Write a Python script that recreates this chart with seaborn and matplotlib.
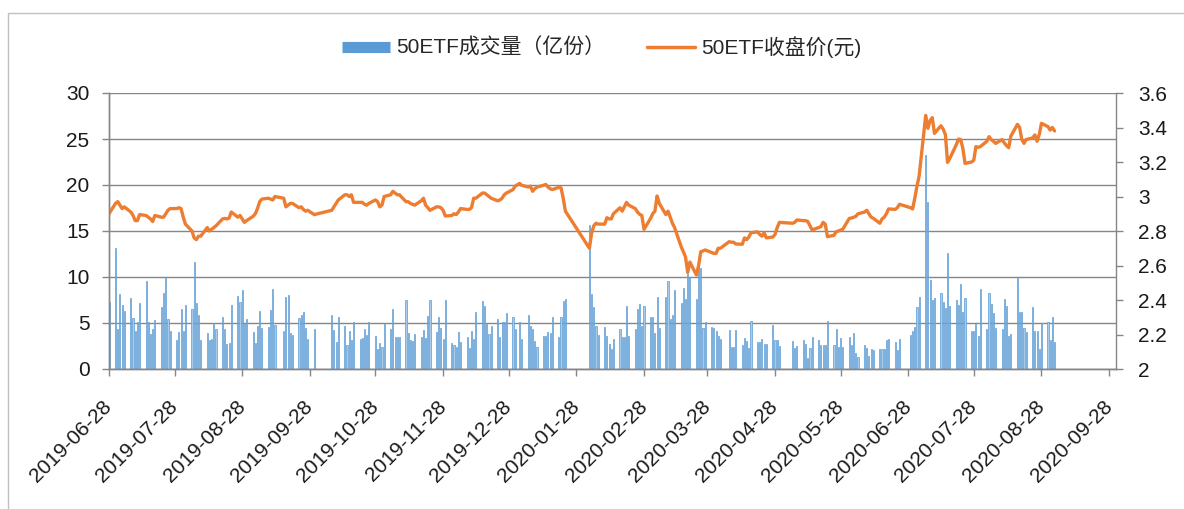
import numpy as np
import pandas as pd
import seaborn as sns
import matplotlib
matplotlib.use("Agg")
from matplotlib import pyplot as plt
from matplotlib.lines import Line2D
from matplotlib.patches import Rectangle
from matplotlib.ticker import FuncFormatter

# trading calendar (SSE closed on these weekdays)
holidays = ["2019-09-13", "2019-10-01", "2019-10-02", "2019-10-03", "2019-10-04",
            "2019-10-07", "2020-01-01", "2020-01-24", "2020-01-27", "2020-01-28",
            "2020-01-29", "2020-01-30", "2020-01-31", "2020-04-06", "2020-05-01",
            "2020-05-04", "2020-05-05", "2020-06-25", "2020-06-26"]
dates = pd.bdate_range("2019-06-28", "2020-09-03", freq="C", holidays=holidays)

# 50ETF close price (yuan)
close = [
    2.90,
    # 2019-07
    2.96, 2.97, 2.95, 2.93, 2.94, 2.91, 2.89, 2.86, 2.86, 2.895, 2.89, 2.88,
    2.87, 2.855, 2.89, 2.88, 2.88, 2.90, 2.92, 2.93, 2.93, 2.935, 2.93,
    # 2019-08
    2.88, 2.84, 2.80, 2.76, 2.75, 2.77, 2.77, 2.82, 2.80, 2.81, 2.82, 2.83,
    2.87, 2.873, 2.87, 2.875, 2.91, 2.88, 2.89, 2.87, 2.85, 2.86,
    # 2019-09
    2.885, 2.90, 2.93, 2.97, 2.985, 2.99, 2.985, 2.98, 3.00, 2.99, 2.94, 2.95,
    2.96, 2.96, 2.935, 2.94, 2.925, 2.915, 2.92, 2.895,
    # 2019-10
    2.92, 2.94, 2.96, 2.98, 3.01, 3.01, 3.00, 3.01, 2.966, 2.966, 2.966, 2.955,
    2.95, 2.96, 2.98, 2.97, 2.94, 2.95,
    # 2019-11
    3.00, 3.01, 3.03, 3.02, 3.01, 3.01, 2.97, 2.97, 2.96, 2.955, 2.95, 2.975,
    2.99, 2.95, 2.935, 2.92, 2.94, 2.94, 2.935, 2.92, 2.887,
    # 2019-12
    2.89, 2.90, 2.895, 2.91, 2.93, 2.925, 2.925, 2.935, 2.99, 2.99, 3.02, 3.02,
    3.01, 3.00, 2.99, 2.975, 2.98, 2.99, 3.01, 3.02, 3.04, 3.06,
    # 2020-01
    3.076, 3.065, 3.055, 3.06, 3.03, 3.045, 3.055, 3.065, 3.07, 3.055, 3.045,
    3.04, 3.053, 3.05, 2.99, 2.915,
    # 2020-02
    2.70, 2.787, 2.83, 2.845, 2.84, 2.84, 2.877, 2.87, 2.87, 2.90, 2.935, 2.915,
    2.94, 2.966, 2.95, 2.93, 2.91, 2.897, 2.89, 2.81,
    # 2020-03
    2.873, 2.90, 2.915, 3.003, 2.96, 2.895, 2.915, 2.88, 2.845, 2.82, 2.71, 2.68,
    2.65, 2.56, 2.62, 2.545, 2.60, 2.68, 2.684, 2.69, 2.675, 2.67,
    # 2020-04
    2.67, 2.70, 2.70, 2.738, 2.735, 2.735, 2.725, 2.723, 2.76, 2.75, 2.765, 2.79,
    2.795, 2.78, 2.77, 2.79, 2.76, 2.765, 2.78, 2.82, 2.85,
    # 2020-05
    2.845, 2.85, 2.864, 2.86, 2.86, 2.855, 2.83, 2.806, 2.82, 2.825, 2.85, 2.84,
    2.767, 2.775, 2.796, 2.80, 2.805, 2.81,
    # 2020-06
    2.873, 2.875, 2.88, 2.885, 2.90, 2.91, 2.92, 2.90, 2.88, 2.874, 2.845, 2.87,
    2.88, 2.90, 2.928, 2.925, 2.935, 2.955, 2.935, 2.928,
    # 2020-07
    2.99, 3.06, 3.12, 3.47, 3.395, 3.44, 3.457, 3.366, 3.41, 3.39, 3.36, 3.198,
    3.22, 3.30, 3.333, 3.33, 3.28, 3.192, 3.20, 3.21, 3.289, 3.285, 3.289,
    # 2020-08
    3.32, 3.347, 3.33, 3.32, 3.308, 3.33, 3.31, 3.295, 3.283, 3.35, 3.418, 3.40,
    3.33, 3.308, 3.33, 3.34, 3.357, 3.32, 3.36, 3.424, 3.405,
    # 2020-09
    3.385, 3.40, 3.38,
]

# 50ETF volume (100 million shares)
volume = [
    7.3,
    # 2019-07
    13.1, 4.4, 8.1, 7.0, 6.3, 7.7, 5.5, 4.1, 5.1, 7.2, 9.6, 5.1, 3.8, 4.4, 5.3,
    6.7, 8.3, 9.9, 5.4, 4.1, 3.2, 4.0, 6.5,
    # 2019-08
    4.1, 7.0, 6.5, 11.6, 7.2, 5.9, 3.2, 3.9, 3.2, 3.3, 5.0, 4.3, 5.6, 4.3, 2.7,
    2.8, 7.0, 7.9, 7.3, 8.6, 4.9, 5.4,
    # 2019-09
    4.0, 2.8, 4.7, 6.3, 4.5, 4.6, 6.4, 8.7, 4.8, 4.1, 7.8, 8.0, 3.9, 3.7, 5.5,
    5.9, 6.2, 4.5, 3.3, 4.4,
    # 2019-10
    5.9, 4.2, 2.9, 5.7, 4.7, 2.6, 4.1, 3.2, 5.1, 3.3, 3.4, 4.3, 3.7, 5.1, 3.6,
    2.2, 2.8, 2.4,
    # 2019-11
    4.9, 4.3, 6.5, 3.5, 3.5, 3.5, 7.5, 3.9, 3.2, 3.0, 3.8, 3.5, 4.2, 3.4, 5.8,
    7.5, 4.0, 5.7, 4.5, 3.3, 7.5,
    # 2019-12
    2.8, 2.6, 2.4, 4.0, 2.9, 3.5, 2.3, 4.1, 3.3, 6.2, 7.4, 6.9, 4.9, 3.8, 4.7,
    5.4, 3.5, 5.1, 5.1, 6.1, 5.7, 4.3,
    # 2020-01
    5.1, 3.3, 5.9, 4.7, 4.3, 3.0, 2.4, 3.6, 3.6, 4.0, 3.9, 5.7, 3.5, 5.7, 7.4,
    7.6,
    # 2020-02
    15.6, 8.1, 6.7, 4.7, 3.7, 4.6, 3.6, 2.7, 2.2, 3.3, 4.3, 3.5, 3.5, 6.8, 3.6,
    4.3, 6.5, 7.1, 4.7, 6.9,
    # 2020-03
    5.7, 5.6, 3.9, 7.8, 4.5, 7.8, 9.6, 5.4, 5.9, 8.6, 7.2, 8.8, 7.6, 10.3, 10.0,
    7.6, 12.0, 11.0, 4.5, 5.1, 4.6, 4.5,
    # 2020-04
    4.1, 3.6, 3.3, 4.2, 2.4, 2.4, 4.2, 2.6, 3.4, 3.0, 2.3, 5.2, 2.9, 2.9, 3.3,
    2.7, 2.7, 4.8, 3.2, 3.2, 2.5,
    # 2020-05
    3.0, 2.3, 2.5, 3.2, 2.7, 1.2, 2.3, 3.5, 3.2, 2.6, 2.6, 2.6, 5.2, 2.6, 4.4,
    2.4, 3.4, 2.4,
    # 2020-06
    3.5, 2.6, 3.9, 1.7, 1.3, 2.6, 2.3, 1.4, 2.2, 2.1, 2.2, 2.2, 2.2, 3.2, 3.3,
    2.9, 2.1, 3.3, 3.7, 4.1,
    # 2020-07
    4.6, 6.7, 7.8, 23.3, 18.1, 9.7, 7.5, 7.7, 8.3, 7.3, 6.6, 12.6, 6.9, 7.5, 7.0,
    9.2, 6.2, 7.7, 4.1, 4.1, 4.9, 3.6, 8.7,
    # 2020-08
    4.3, 8.3, 7.1, 6.1, 4.5, 4.4, 7.6, 6.8, 3.6, 3.8, 9.9, 6.2, 6.2, 4.5, 4.0,
    6.7, 4.1, 4.1, 2.2, 5.0, 5.1,
    # 2020-09
    3.1, 5.6, 2.9,
]

month_ticks = pd.date_range("2019-06-28", "2020-09-28", freq=pd.DateOffset(months=1))
vol_label = "50ETF成交量（亿份）"
price_label = "50ETF收盘价(元)"

df = pd.DataFrame({"date": dates, "close": close, "volume": volume})

sns.set_theme(style="white")
plt.rcParams["font.family"] = ["Liberation Sans", "Noto Sans CJK SC", "DejaVu Sans"]

grey = "#868686"
fig = plt.figure(figsize=(11.84, 5.09), dpi=100)
ax = fig.add_axes([109 / 1184, 1 - 369 / 509, 1006.7 / 1184, 276 / 509])

ax.bar(df["date"], df["volume"], width=0.5, color="#a9cbea",
       edgecolor="#5b9bd5", linewidth=0.5, zorder=2)
ax.set_ylim(0, 30)
ax.set_yticks(range(0, 31, 5))
ax.yaxis.grid(True, color=grey, linewidth=1.0, zorder=0)
ax.set_axisbelow(True)

ax2 = ax.twinx()
sns.lineplot(data=df, x="date", y="close", ax=ax2, color="#ed7d31",
             linewidth=2.4, legend=False)
ax2.set_ylim(2, 3.6)
ax2.set_yticks(np.arange(2, 3.61, 0.2))
ax2.yaxis.set_major_formatter(FuncFormatter(lambda v, p: f"{v:g}"))

ax.set_xlim(pd.Timestamp("2019-06-28"), pd.Timestamp("2020-10-01"))
ax.set_xticks(month_ticks)
ax.set_xticklabels([d.strftime("%Y-%m-%d") for d in month_ticks],
                   rotation=45, ha="right", va="center", rotation_mode="anchor")

for a in (ax, ax2):
    a.set_xlabel("")
    a.set_ylabel("")
    for side in ("left", "right", "bottom"):
        a.spines[side].set_color(grey)
        a.spines[side].set_linewidth(1.0)
    a.spines["top"].set_visible(False)
ax.spines["right"].set_visible(False)

ax.tick_params(axis="y", left=True, length=5, width=1, color=grey,
               labelsize=15, labelcolor="#1a1a1a", pad=9)
ax.tick_params(axis="x", bottom=True, length=5, width=1, color=grey,
               labelsize=15, labelcolor="#1a1a1a", pad=20)
ax2.tick_params(axis="y", right=True, length=5, width=1, color=grey,
                labelsize=15, labelcolor="#1a1a1a", pad=11)

handles = [Line2D([], [], color="#5b9bd5", linewidth=8, solid_capstyle="butt"),
           Line2D([], [], color="#ed7d31", linewidth=2.5)]
fig.legend(handles, [vol_label, price_label], loc="center",
           bbox_to_anchor=(0.508, 1 - 47 / 509), ncol=2, frameon=False,
           fontsize=15, handlelength=2.3, handletextpad=0.3, columnspacing=2.0)

fig.patches.append(Rectangle((8 / 1184, -0.2), 1.5, 1.2 - 13 / 509, fill=False,
                             edgecolor="#c0c0c0", linewidth=1.0,
                             transform=fig.transFigure))

fig.savefig("out.png", dpi=100)
